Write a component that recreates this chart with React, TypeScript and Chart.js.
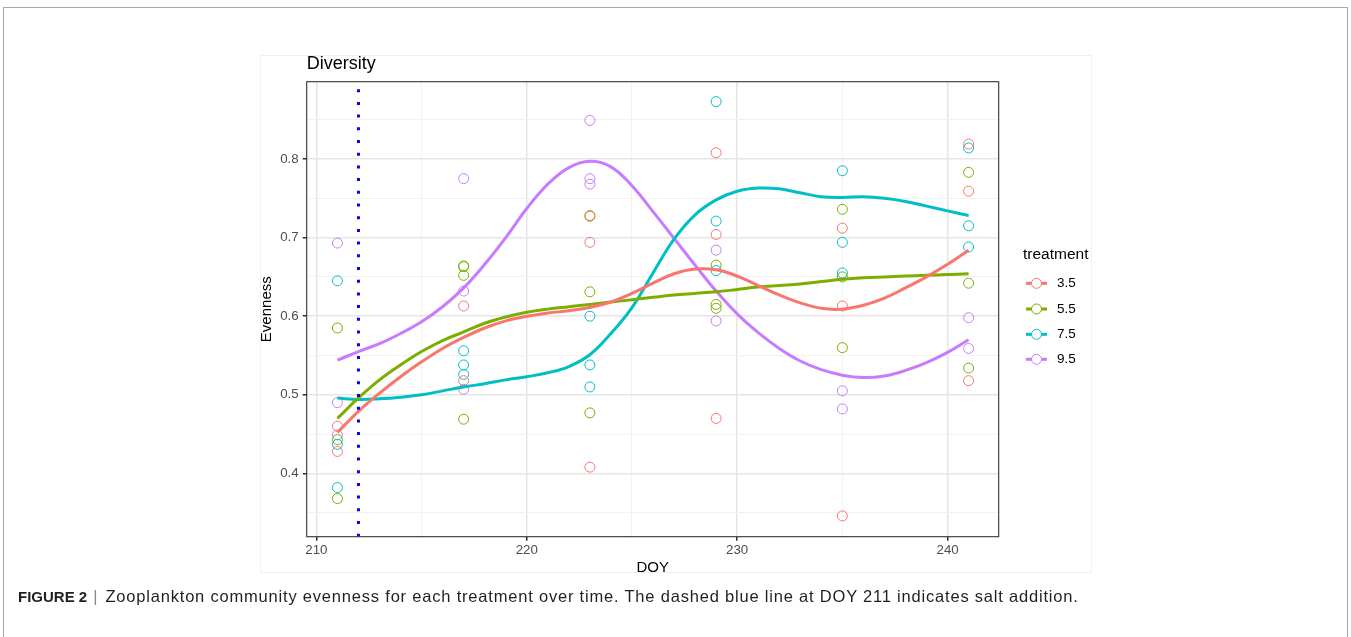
import React, { useEffect, useRef } from "react";
import { Chart, registerables } from "chart.js";

Chart.register(...registerables);

// ---- Data ----
const TREATMENTS = ["3.5", "5.5", "7.5", "9.5"];
const COLORS = ["#F8766D", "#7CAE00", "#00BFC4", "#C77CFF"];

const SAMPLE_DOY = [211, 217, 223, 229, 235, 241];

// observed evenness per sampling day (one inner list per day)
const EVEN_35 = [
  [0.46, 0.428],
  [0.613, 0.518],
  [0.727, 0.694, 0.408],
  [0.808, 0.704, 0.47],
  [0.712, 0.613, 0.346],
  [0.819, 0.759, 0.518],
];
const EVEN_55 = [
  [0.585, 0.443, 0.368],
  [0.664, 0.663, 0.652, 0.469],
  [0.728, 0.631, 0.477],
  [0.665, 0.615, 0.61],
  [0.736, 0.65, 0.56],
  [0.783, 0.642, 0.534],
];
const EVEN_75 = [
  [0.645, 0.437, 0.382],
  [0.556, 0.538, 0.526],
  [0.6, 0.538, 0.51],
  [0.873, 0.721, 0.658],
  [0.785, 0.694, 0.655],
  [0.814, 0.715, 0.688],
];
const EVEN_95 = [
  [0.693, 0.49, 0.449],
  [0.775, 0.632, 0.507],
  [0.849, 0.775, 0.768],
  [0.684, 0.594],
  [0.505, 0.482],
  [0.598, 0.559],
];

// smoothed (loess) curves
const SMOOTH_DOY = [
  211, 212, 213, 214, 215, 216, 217, 218, 219, 220, 221, 222, 223, 224, 225, 226,
  227, 228, 229, 230, 231, 232, 233, 234, 235, 236, 237, 238, 239, 240, 241,
];
const SMOOTH_35 = [
  0.452, 0.479, 0.502, 0.523, 0.542, 0.559, 0.573, 0.585, 0.594, 0.6, 0.604,
  0.607, 0.611, 0.618, 0.629, 0.642, 0.654, 0.66, 0.659, 0.651, 0.639, 0.627,
  0.617, 0.61, 0.609, 0.614, 0.623, 0.636, 0.65, 0.666, 0.684,
];
const SMOOTH_55 = [
  0.47, 0.496, 0.519, 0.538, 0.555, 0.569, 0.58, 0.591, 0.599, 0.605, 0.609,
  0.612, 0.615, 0.618, 0.621, 0.624, 0.627, 0.629, 0.631, 0.634, 0.637, 0.639,
  0.641, 0.644, 0.647, 0.649, 0.65, 0.651, 0.652, 0.653, 0.654,
];
const SMOOTH_75 = [
  0.496, 0.494, 0.495, 0.497, 0.5, 0.505, 0.51, 0.514, 0.519, 0.523, 0.528,
  0.536, 0.551, 0.578, 0.611, 0.655, 0.698, 0.729, 0.748, 0.759, 0.763, 0.762,
  0.757, 0.752, 0.751, 0.752, 0.75, 0.746, 0.74, 0.734, 0.728,
];
const SMOOTH_95 = [
  0.544, 0.555, 0.565, 0.578, 0.593, 0.612, 0.636, 0.666, 0.7, 0.737, 0.768,
  0.789, 0.797, 0.79, 0.766, 0.733, 0.699, 0.665, 0.632, 0.603, 0.579, 0.559,
  0.543, 0.532, 0.525, 0.522, 0.524, 0.531, 0.541, 0.554, 0.57,
];

const SALT_DOY = 212;

const X_MIN = 209.54;
const X_MAX = 242.43;
const Y_MIN = 0.3195;
const Y_MAX = 0.8983;
const X_TICKS = [210, 215, 220, 225, 230, 235, 240];
const Y_TICKS = [0.35, 0.4, 0.45, 0.5, 0.55, 0.6, 0.65, 0.7, 0.75, 0.8, 0.85];

const FONT = '"Liberation Sans", Arial, Helvetica, sans-serif';

const EVEN = [EVEN_35, EVEN_55, EVEN_75, EVEN_95];
const SMOOTH = [SMOOTH_35, SMOOTH_55, SMOOTH_75, SMOOTH_95];

const isMajorX = (v: number) => Math.round(v) % 10 === 0;
const isMajorY = (v: number) => Math.round(v * 100) % 10 === 0;

export default function App() {
  const ref = useRef<HTMLCanvasElement | null>(null);

  useEffect(() => {
    if (!ref.current) return;

    const scatterSets = EVEN.map((vals, i) => ({
      type: "scatter" as const,
      label: TREATMENTS[i],
      data: SAMPLE_DOY.flatMap((d, j) => vals[j].map((y) => ({ x: d, y }))),
      showLine: false,
      pointRadius: 5,
      pointHoverRadius: 5,
      pointBorderWidth: 1,
      pointBackgroundColor: "rgba(0,0,0,0)",
      borderColor: COLORS[i],
      backgroundColor: "rgba(0,0,0,0)",
      order: 10,
    }));

    const lineSets = SMOOTH.map((vals, i) => ({
      type: "line" as const,
      label: TREATMENTS[i] + " smooth",
      data: SMOOTH_DOY.map((d, j) => ({ x: d, y: vals[j] })),
      borderColor: COLORS[i],
      borderWidth: 3,
      pointRadius: 0,
      fill: false,
      tension: 0.4,
      order: 5,
    }));

    const saltLine = {
      type: "line" as const,
      label: "salt",
      data: [
        { x: SALT_DOY, y: Y_MIN },
        { x: SALT_DOY, y: Y_MAX },
      ],
      borderColor: "#0000FF",
      borderWidth: 3,
      borderDash: [3, 9.7],
      borderCapStyle: "butt" as const,
      pointRadius: 0,
      fill: false,
      order: 1,
    };

    const decor = {
      id: "decor",
      afterDraw(chart: any) {
        const { ctx, chartArea } = chart;
        ctx.save();
        // panel border
        ctx.strokeStyle = "#333333";
        ctx.lineWidth = 1.1;
        ctx.strokeRect(
          chartArea.left,
          chartArea.top,
          chartArea.right - chartArea.left,
          chartArea.bottom - chartArea.top
        );
        // plot title
        ctx.fillStyle = "#000";
        ctx.font = `18px ${FONT}`;
        ctx.textBaseline = "alphabetic";
        ctx.textAlign = "left";
        ctx.fillText("Diversity", chartArea.left, 68.5);
        // legend
        ctx.font = `15.5px ${FONT}`;
        ctx.textBaseline = "middle";
        ctx.fillText("treatment", 1023, 255);
        const ys = [283.3, 309, 334.3, 359.3];
        TREATMENTS.forEach((t, i) => {
          const y = ys[i];
          ctx.strokeStyle = COLORS[i];
          ctx.lineWidth = 3;
          ctx.beginPath();
          ctx.moveTo(1026, y);
          ctx.lineTo(1047, y);
          ctx.stroke();
          ctx.lineWidth = 1;
          ctx.beginPath();
          ctx.arc(1036.5, y, 5, 0, Math.PI * 2);
          ctx.fillStyle = "#fff";
          ctx.fill();
          ctx.stroke();
          ctx.fillStyle = "#000";
          ctx.font = `13.5px ${FONT}`;
          ctx.fillText(t, 1057, y);
        });
        ctx.restore();
      },
    };

    const chart = new Chart(ref.current, {
      type: "scatter",
      data: { datasets: [...scatterSets, ...lineSets, saltLine] as any },
      options: {
        animation: false,
        responsive: false,
        events: [],
        layout: { padding: { left: 250, right: 352.3, top: 81.7, bottom: 60.3 } },
        plugins: { legend: { display: false }, tooltip: { enabled: false }, title: { display: false } },
        scales: {
          x: {
            type: "linear",
            min: X_MIN,
            max: X_MAX,
            afterBuildTicks: (s: any) => {
              s.ticks = X_TICKS.map((v) => ({ value: v }));
            },
            afterFit: (s: any) => {
              s.height = 40;
            },
            border: { display: false },
            grid: {
              color: (c: any) => (isMajorX(c.tick.value) ? "#e5e5e5" : "#f2f2f2"),
              lineWidth: (c: any) => (isMajorX(c.tick.value) ? 1.5 : 1),
              tickColor: (c: any) => (isMajorX(c.tick.value) ? "#333333" : "rgba(0,0,0,0)"),
              tickLength: 4,
              drawTicks: true,
            },
            ticks: {
              autoSkip: false,
              maxRotation: 0,
              padding: 2,
              color: "#4d4d4d",
              font: { family: FONT, size: 13.3 },
              callback: (v: any) => (isMajorX(Number(v)) ? String(Math.round(Number(v))) : ""),
            },
            title: {
              display: true,
              text: "DOY",
              color: "#000",
              font: { family: FONT, size: 15 },
              padding: { top: 0, bottom: 0 },
            },
          },
          y: {
            type: "linear",
            min: Y_MIN,
            max: Y_MAX,
            afterBuildTicks: (s: any) => {
              s.ticks = Y_TICKS.map((v) => ({ value: v }));
            },
            afterFit: (s: any) => {
              s.width = 56.7;
            },
            border: { display: false },
            grid: {
              color: (c: any) => (isMajorY(c.tick.value) ? "#e5e5e5" : "#f2f2f2"),
              lineWidth: (c: any) => (isMajorY(c.tick.value) ? 1.5 : 1),
              tickColor: (c: any) => (isMajorY(c.tick.value) ? "#333333" : "rgba(0,0,0,0)"),
              tickLength: 4,
              drawTicks: true,
            },
            ticks: {
              autoSkip: false,
              padding: 4,
              color: "#4d4d4d",
              font: { family: FONT, size: 13.3 },
              callback: (v: any) => (isMajorY(Number(v)) ? Number(v).toFixed(1) : ""),
            },
            title: {
              display: true,
              text: "Evenness",
              color: "#000",
              font: { family: FONT, size: 15 },
              padding: { top: 8, bottom: 0 },
            },
          },
        },
      },
      plugins: [decor],
    } as any);

    return () => chart.destroy();
  }, []);

  return (
    <div>
      <div
        style={{
          position: "fixed",
          left: 3,
          top: 7,
          width: 1345,
          height: 700,
          border: "1px solid #a8a8a8",
          boxSizing: "border-box",
          background: "#fff",
        }}
      />
      <div
        style={{
          position: "fixed",
          left: 260,
          top: 55,
          width: 832,
          height: 518,
          border: "1px solid #f0f0f0",
          boxSizing: "border-box",
        }}
      />
      <canvas
        ref={ref}
        width={1351}
        height={637}
        style={{ position: "fixed", left: 0, top: 0, width: 1351, height: 637, display: "block" }}
      />
      <div
        style={{
          position: "fixed",
          left: 18,
          top: 587,
          fontFamily: FONT,
          fontSize: 16.5,
          color: "#231f20",
          whiteSpace: "nowrap",
        }}
      >
        <span style={{ fontWeight: "bold", fontSize: 15 }}>FIGURE 2</span>
        <span style={{ color: "#888", margin: "0 8px 0 6px" }}>|</span>
        <span style={{ letterSpacing: "0.8px" }}>
          Zooplankton community evenness for each treatment over time. The dashed blue line at DOY 211
          indicates salt addition.
        </span>
      </div>
    </div>
  );
}
